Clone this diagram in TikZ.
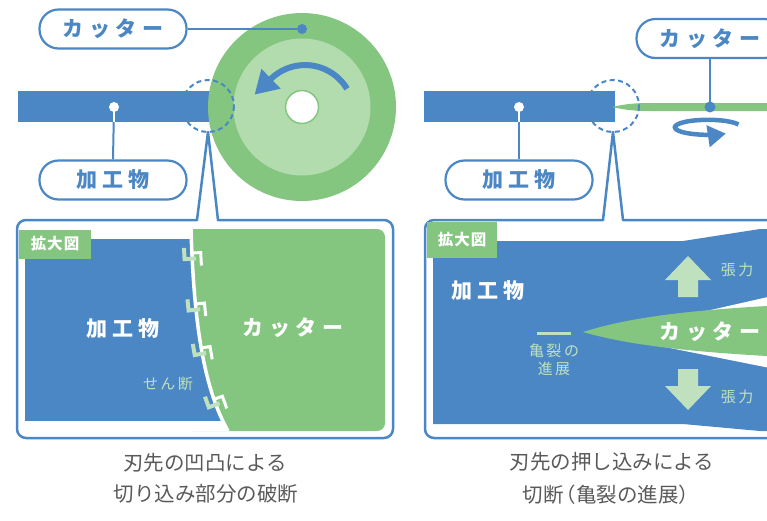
\documentclass[tikz,border=0pt]{standalone}
\usepackage{fontspec}
\setmainfont{Noto Sans CJK JP}
\usetikzlibrary{arrows.meta,calc}

\definecolor{cBlue}{HTML}{4B87C5}
\definecolor{cGreen}{HTML}{84C680}
\definecolor{cGreenL}{HTML}{B2DCAE}
\definecolor{cGreenP}{HTML}{BFE1BD}
\definecolor{cGray}{HTML}{5A5A5A}

\newcommand\gapL{\kern5.5pt}
\newcommand\gapS{\kern2.5pt}

\tikzset{
  tagbox/.style={draw=cBlue, line width=2.2pt, fill=white, rounded corners=19pt,
    minimum width=147pt, minimum height=39pt, inner sep=0pt, text=cBlue,
    font=\fontsize{21}{24}\selectfont\bfseries},
  conn/.style={draw=cBlue, line width=2pt},
  panelline/.style={draw=cBlue, line width=2.5pt, line cap=round, line join=round},
  zoomring/.style={draw=cBlue, line width=2pt, dash pattern=on 5pt off 3.5pt},
  bigw/.style={text=white, inner sep=0pt, font=\fontsize{21}{24}\selectfont\bfseries},
  smallg/.style={text=cGreenP, inner sep=0pt, align=center, font=\fontsize{15}{18}\selectfont},
  tagfill/.style={fill=cGreen, text=white, inner sep=0pt, font=\fontsize{15.5}{17}\selectfont\bfseries},
  caption/.style={text=cGray, inner sep=0pt, font=\fontsize{20.5}{24}\selectfont},
}

\begin{document}
\begin{tikzpicture}[x=1pt,y=-1pt]
\clip (0,0) rectangle (767,520);

% ---------------- left: rotary cutter ----------------
\fill[cBlue] (18,91) rectangle (210,122);
\coordinate (hubL) at (302,107);
\fill[cGreen] (hubL) circle (94);
\fill[cGreenL] (hubL) circle (68.5);
\draw[cGreen, line width=1.5pt, fill=white] (hubL) circle (16.5);
% rotation arrow
\draw[cBlue, line width=6pt, -{Triangle[length=23pt,width=26pt]}]
  (347,88.8) arc[start angle=-31, end angle=-134, radius=49] -- (254.5,94.7);
% magnified spot
\coordinate (spotL) at (208,106);
\draw[zoomring] (spotL) circle (26);

% labels
\node[tagbox] (cutL) at (113,29) {カ\gapL ッ\gapL タ\gapL ー};
\coordinate (cutdotL) at (302,29);
\draw[conn] (cutL.east) -- (cutdotL);
\fill[cBlue] (cutdotL) circle (5);

\node[tagbox] (workL) at (113,180) {加\gapL 工\gapL 物};
\coordinate (workdotL) at (114,107);
\draw[conn] (workdotL) -- (workL.north);
\draw[white, line width=2pt] (workdotL) -- (114,122);
\fill[white] (workdotL) circle (5);

% magnified panel
\coordinate (apexL) at (208,132);
\draw[panelline, rounded corners=9pt] (218,220) -- (393,220) -- (393,438) -- (17,438) -- (17,220) -- (197,220);
\draw[panelline] (197,220) -- (apexL) -- (218,220);

\fill[cGreen, rounded corners=8pt] (185,229) rectangle (385,431);
\fill[white] (191,229) .. controls (194,330) and (205,390) .. (228,431) -- (20,431) -- (20,226) -- cycle;
\begin{scope}
  \clip (191,229) .. controls (194,330) and (205,390) .. (228,431) -- (20,431) -- (20,226) -- cycle;
  \fill[cBlue] (25,239) rectangle (240,421);
\end{scope}
\draw[white, line width=3.5pt] (191,229) .. controls (194,330) and (205,390) .. (228,431);

% cutting-edge teeth
\foreach \px/\py/\ang in {192/258/3, 196/309/6, 202/353/10, 215.6/404/20}{
  \begin{scope}[shift={(\px,\py)}, rotate=\ang]
    \draw[cGreenP, line width=4pt] (-7.5,-10.5) -- (-7.5,0.7) -- (4,0.7);
    \draw[white, line width=3pt] (-1,-5) -- (9,-5) -- (9,8);
  \end{scope}
}

\node[tagfill, minimum width=72pt, minimum height=29pt] (tagL) at (55,244) {拡\kern1pt 大\kern1pt 図};
\node[bigw] (wkL) at (123,329) {加\gapL 工\gapL 物};
\node[bigw] (ctL) at (293,328) {カ\gapL ッ\gapL タ\gapL ー};
\node[smallg] (shear) at (168,384) {せ\gapS ん\gapS 断};

\node[caption] (capL1) at (205,463) {刃先の凹凸による};
\node[caption] (capL2) at (206,494) {切り込み部分の破断};

% ---------------- right: thin blade ----------------
\fill[cBlue] (424,91) rectangle (615,122);
\fill[cGreen] (612,107) .. controls (625,104) and (635,103) .. (650,103) -- (790,103)
  -- (790,111) -- (650,111) .. controls (635,111) and (625,110) .. (612,107) -- cycle;
\coordinate (spotR) at (613,106);
\draw[zoomring] (spotR) circle (26);

\node[tagbox] (cutR) at (710,38.5) {カ\gapL ッ\gapL タ\gapL ー};
\coordinate (cutdotR) at (710,107);
\draw[conn] (cutR.south) -- (cutdotR);
\fill[cBlue] (cutdotR) circle (5.5);

% spin arrow around the blade
\draw[cBlue, line width=4.5pt, -{Triangle[length=18pt,width=21pt]}]
  (738.5,124.5) arc[start angle=-22, end angle=-303, x radius=33, y radius=7.5];

\node[tagbox] (workR) at (519,180) {加\gapL 工\gapL 物};
\coordinate (workdotR) at (519,107);
\draw[conn] (workdotR) -- (workR.north);
\draw[white, line width=2pt] (workdotR) -- (519,122);
\fill[white] (workdotR) circle (5);

% magnified panel
\coordinate (apexR) at (613,132);
\draw[panelline, rounded corners=9pt] (623,220) -- (800,220) -- (800,438) -- (425,438) -- (425,220) -- (603,220);
\draw[panelline] (603,220) -- (apexR) -- (623,220);

\fill[cBlue] (433,241) -- (683,241) -- (760,229) -- (790,229) -- (790,431)
  -- (760,431) -- (683,424) -- (433,424) -- cycle;
\fill[white] (640,326) -- (790,292) -- (790,372) -- (640,342) -- cycle;
\fill[cGreen] (583,332) .. controls (615,322) and (660,312) .. (767,306) -- (790,305)
  -- (790,357) -- (767,356) .. controls (660,350) and (615,341) .. (583,332) -- cycle;

% tension arrows
\fill[cGreenP] (688,256) -- (711,280) -- (698,280) -- (698,297) -- (678,297) -- (678,280) -- (665,280) -- cycle;
\fill[cGreenP] (688,410) -- (711,386) -- (698,386) -- (698,369) -- (678,369) -- (678,386) -- (665,386) -- cycle;
\node[smallg] (tenU) at (737,270) {張\gapS 力};
\node[smallg] (tenD) at (737,397) {張\gapS 力};

\node[tagfill, minimum width=70pt, minimum height=36pt] (tagR) at (462,240) {拡\kern1pt 大\kern1pt 図};
\node[bigw] (wkR) at (488,291) {加\gapL 工\gapL 物};
\node[bigw] (ctR) at (710,332) {カ\gapL ッ\gapL タ\gapL ー};

\coordinate (crackA) at (537,333);
\coordinate (crackB) at (571,333);
\draw[cGreenP, line width=3pt] (crackA) -- (crackB);
\node[smallg] (crack) at (554,360) {亀\gapS 裂\gapS の\\[0pt]進\gapS 展};

\node[caption] (capR1) at (612,462) {刃先の押し込みによる};
\node[caption] (capR2) at (611,495) {切断\kern-8pt（亀裂の進展）};
\end{tikzpicture}
\end{document}
